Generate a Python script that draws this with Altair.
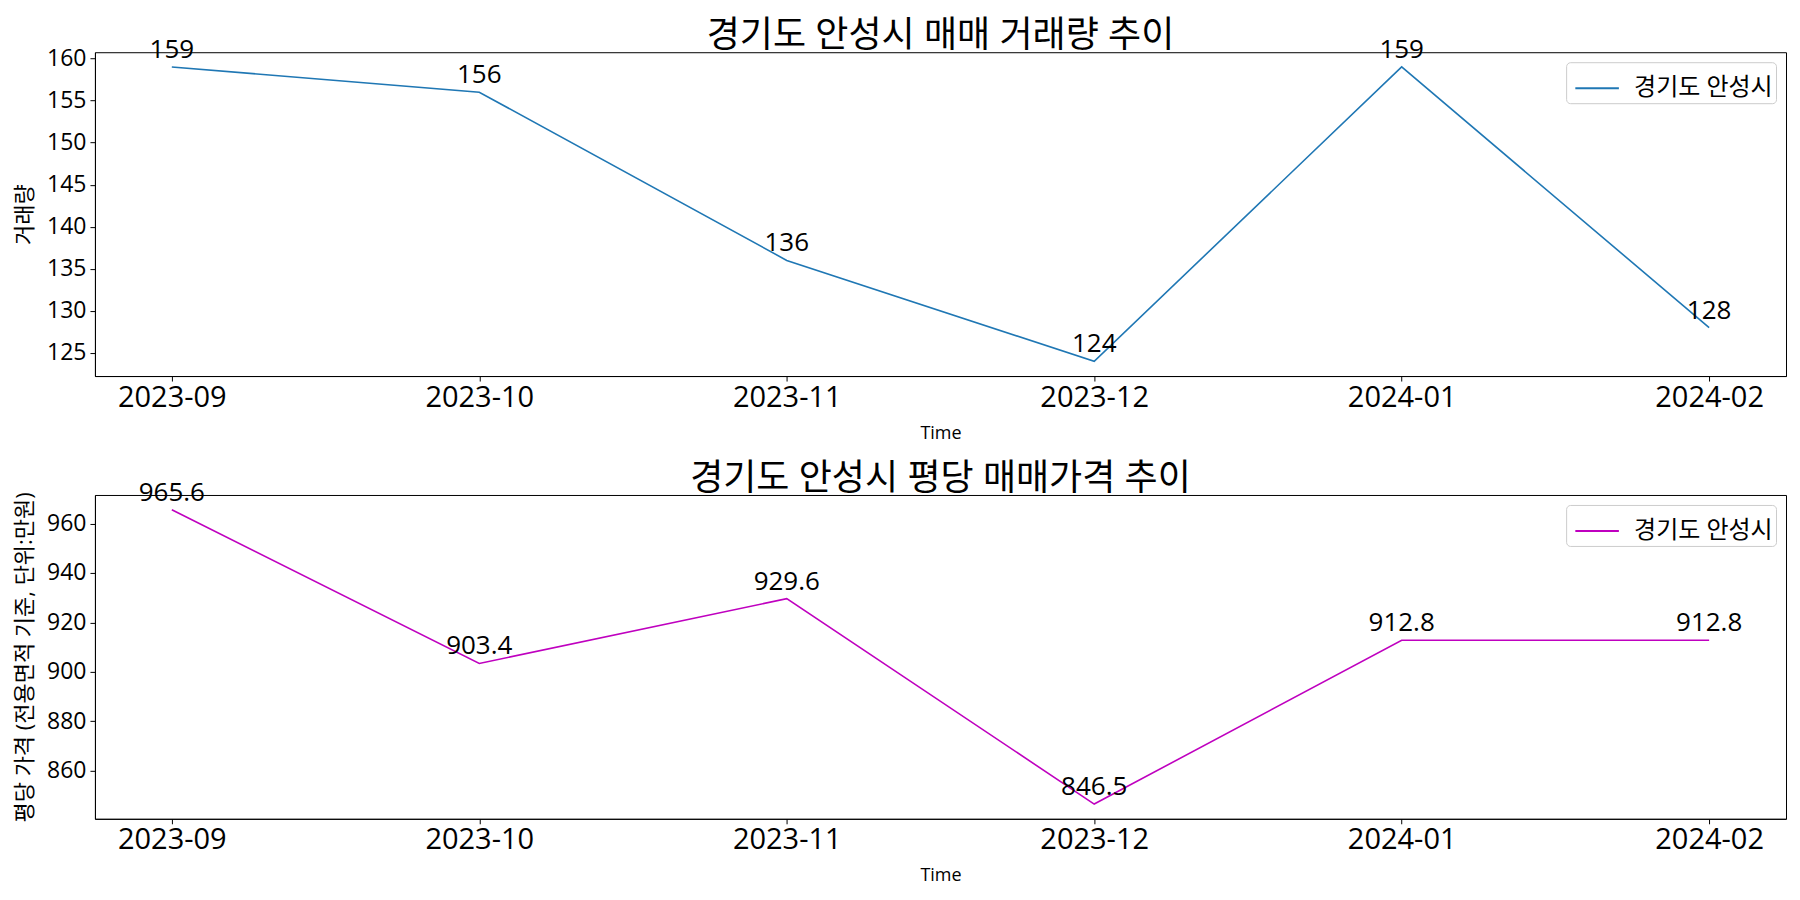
import json
import altair as alt
import pandas as pd

months = ["2023-09", "2023-10", "2023-11", "2023-12", "2024-01", "2024-02"]
volume = [159, 156, 136, 124, 159, 128]
price = [965.6, 903.4, 929.6, 846.5, 912.8, 912.8]
region = "경기도 안성시"

volume_ticks = [125, 130, 135, 140, 145, 150, 155, 160]
price_ticks = [860, 880, 900, 920, 940, 960]

FONT = "Open Sans, Noto Sans CJK KR, sans-serif"

df_v = pd.DataFrame({"i": list(range(len(months))), "value": volume,
                     "series": region, "label": [str(v) for v in volume]})
df_p = pd.DataFrame({"i": list(range(len(months))), "value": price,
                     "series": region, "label": [f"{v:.1f}" for v in price]})

label_expr = json.dumps(months) + "[datum.value]"


def pad_domain(vals):
    lo, hi = min(vals), max(vals)
    m = (hi - lo) * 0.05
    return [lo - m, hi + m]


def panel(df, color, title, ytitle, yticks):
    n = len(df)
    x = alt.X("i:Q",
              scale=alt.Scale(domain=pad_domain([0, n - 1]), nice=False, zero=False),
              axis=alt.Axis(values=list(range(n)), labelExpr=label_expr, title="Time",
                            grid=False, labelFontSize=29, titleFontSize=18,
                            titleFontWeight="normal", tickSize=5, labelPadding=2,
                            titlePadding=12, labelFont=FONT, titleFont=FONT))
    y = alt.Y("value:Q",
              scale=alt.Scale(domain=pad_domain(df["value"].tolist()), nice=False, zero=False),
              axis=alt.Axis(values=yticks, title=ytitle, grid=False, labelFontSize=23,
                            titleFontSize=22, titleFontWeight="normal", tickSize=5,
                            labelPadding=4, titlePadding=10, labelFont=FONT, titleFont=FONT))
    line = alt.Chart(df).mark_line(strokeWidth=1.6).encode(
        x=x, y=y,
        color=alt.Color("series:N", scale=alt.Scale(domain=[region], range=[color]),
                        legend=alt.Legend(title=None, orient="top-right", offset=10,
                                          padding=3, symbolOffset=5,
                                          strokeColor="#cccccc",
                                          fillColor="white", cornerRadius=4,
                                          symbolType="stroke", symbolSize=1900,
                                          symbolStrokeWidth=2, labelFontSize=24,
                                          labelFont=FONT, labelOffset=14,
                                          labelColor="black")))
    text = alt.Chart(df).mark_text(dy=-9, baseline="alphabetic", fontSize=26,
                                   font=FONT, color="black").encode(
        x=x, y=y, text="label:N")
    return alt.layer(line, text).properties(
        width=1692, height=324,
        title=alt.TitleParams(title, fontSize=36, font=FONT, fontWeight="normal",
                              anchor="middle", offset=-18, color="black", frame="group"))


top = panel(df_v, "#1f77b4", "경기도 안성시 매매 거래량 추이", "거래량", volume_ticks)
bottom = panel(df_p, "#bf00bf", "경기도 안성시 평당 매매가격 추이",
               "평당 가격 (전용면적 기준, 단위:만원)", price_ticks)

chart = alt.vconcat(top, bottom, spacing=17).resolve_scale(
    color="independent", x="independent", y="independent"
).resolve_legend(color="independent").properties(
    padding={"left": 5, "top": 9, "right": 5, "bottom": 5}
).configure_view(stroke="black", strokeWidth=1).configure_axis(
    domainColor="black", tickColor="black", labelColor="black", titleColor="black"
)

chart.save("out.html", embed_options={"renderer": "svg", "actions": False})
